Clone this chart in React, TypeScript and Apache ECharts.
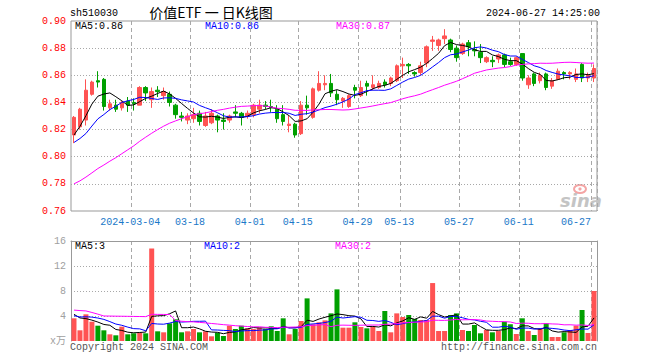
import React, { useEffect, useRef } from "react";
import * as echarts from "echarts";

// ---------- data ----------
const dates = [
  "2024-02-19","2024-02-20","2024-02-21","2024-02-22","2024-02-23","2024-02-26","2024-02-27","2024-02-28","2024-02-29","2024-03-01",
  "2024-03-04","2024-03-05","2024-03-06","2024-03-07","2024-03-08","2024-03-11","2024-03-12","2024-03-13","2024-03-14","2024-03-15",
  "2024-03-18","2024-03-19","2024-03-20","2024-03-21","2024-03-22","2024-03-25","2024-03-26","2024-03-27","2024-03-28","2024-03-29",
  "2024-04-01","2024-04-02","2024-04-03","2024-04-08","2024-04-09","2024-04-10","2024-04-11","2024-04-12",
  "2024-04-15","2024-04-16","2024-04-17","2024-04-18","2024-04-19","2024-04-22","2024-04-23","2024-04-24","2024-04-25","2024-04-26",
  "2024-04-29","2024-04-30","2024-05-06","2024-05-07","2024-05-08","2024-05-09","2024-05-10",
  "2024-05-13","2024-05-14","2024-05-15","2024-05-16","2024-05-17","2024-05-20","2024-05-21","2024-05-22","2024-05-23","2024-05-24",
  "2024-05-27","2024-05-28","2024-05-29","2024-05-30","2024-05-31","2024-06-03","2024-06-04","2024-06-05","2024-06-06","2024-06-07",
  "2024-06-11","2024-06-12","2024-06-13","2024-06-14","2024-06-17","2024-06-18","2024-06-19","2024-06-20","2024-06-21",
  "2024-06-24","2024-06-25","2024-06-26","2024-06-27",
];

const labelDates = [
  "2024-03-04","2024-03-18","2024-04-01","2024-04-15","2024-04-29",
  "2024-05-13","2024-05-27","2024-06-11","2024-06-27",
];

const opens = [
  0.816,0.822,0.827,0.846,0.856,0.857,0.836,0.838,0.836,0.841,
  0.840,0.838,0.851,0.842,0.849,0.845,0.846,0.838,0.830,0.827,
  0.828,0.832,0.823,0.825,0.830,0.827,0.827,0.833,0.832,0.830,
  0.831,0.835,0.838,0.837,0.835,0.831,0.823,0.824,0.817,0.838,
  0.829,0.849,0.853,0.854,0.846,0.841,0.837,0.851,0.845,0.854,
  0.851,0.851,0.855,0.854,0.856,0.867,0.868,0.862,0.862,0.869,
  0.885,0.882,0.887,0.886,0.880,0.876,0.884,0.879,0.877,0.870,
  0.871,0.872,0.875,0.870,0.868,0.876,0.853,0.861,0.856,0.861,
  0.852,0.857,0.862,0.861,0.857,0.868,0.858,0.858,
];
const closes = [
  0.829,0.835,0.849,0.855,0.855,0.837,0.839,0.835,0.840,0.838,
  0.839,0.851,0.847,0.848,0.848,0.848,0.840,0.831,0.829,0.830,
  0.831,0.826,0.830,0.832,0.827,0.826,0.830,0.832,0.829,0.832,
  0.838,0.838,0.837,0.836,0.828,0.826,0.824,0.816,0.838,0.836,
  0.850,0.854,0.854,0.847,0.842,0.843,0.845,0.849,0.851,0.852,
  0.853,0.854,0.853,0.858,0.867,0.868,0.867,0.861,0.867,0.881,
  0.886,0.886,0.889,0.879,0.873,0.883,0.881,0.878,0.873,0.873,
  0.870,0.875,0.868,0.868,0.873,0.858,0.858,0.854,0.860,0.851,
  0.856,0.863,0.861,0.862,0.861,0.858,0.860,0.865,
];
const lows = [
  0.810,0.820,0.823,0.845,0.851,0.834,0.834,0.833,0.834,0.833,
  0.834,0.838,0.841,0.836,0.844,0.842,0.837,0.828,0.826,0.824,
  0.825,0.823,0.822,0.824,0.818,0.820,0.825,0.829,0.823,0.828,
  0.829,0.832,0.835,0.833,0.825,0.823,0.818,0.814,0.816,0.831,
  0.828,0.848,0.849,0.844,0.838,0.836,0.836,0.843,0.844,0.845,
  0.849,0.850,0.851,0.852,0.855,0.858,0.861,0.859,0.860,0.866,
  0.878,0.878,0.883,0.877,0.870,0.875,0.874,0.874,0.869,0.869,
  0.866,0.869,0.866,0.867,0.867,0.856,0.850,0.852,0.854,0.849,
  0.850,0.857,0.857,0.857,0.855,0.855,0.855,0.855,
];
const highs = [
  0.830,0.836,0.857,0.856,0.863,0.858,0.842,0.842,0.841,0.844,
  0.843,0.852,0.852,0.851,0.852,0.851,0.848,0.839,0.833,0.832,
  0.836,0.834,0.833,0.835,0.831,0.832,0.831,0.838,0.833,0.834,
  0.839,0.842,0.841,0.842,0.838,0.838,0.830,0.825,0.841,0.845,
  0.851,0.863,0.860,0.861,0.849,0.844,0.846,0.853,0.856,0.856,
  0.860,0.856,0.857,0.859,0.868,0.873,0.869,0.863,0.870,0.882,
  0.889,0.887,0.894,0.887,0.882,0.884,0.886,0.885,0.883,0.874,
  0.874,0.876,0.876,0.873,0.874,0.876,0.860,0.862,0.862,0.862,
  0.858,0.865,0.863,0.863,0.865,0.869,0.862,0.868,
];
// volumes in 万手
const volumes = [
  3.63,1.71,4.27,3.09,2.45,1.71,1.07,0.91,2.29,1.07,
  1.23,1.33,1.23,14.8,1.55,1.39,2.83,3.47,1.39,1.55,
  1.92,1.39,1.55,0.75,1.33,0.80,2.45,1.92,2.45,2.03,
  1.92,2.13,1.92,2.35,1.60,3.63,1.07,1.92,3.20,6.82,
  2.67,2.99,3.30,4.42,8.26,2.13,2.13,2.99,2.24,2.03,
  2.29,1.60,4.80,1.39,4.42,3.84,4.16,3.52,3.36,3.36,
  9.27,1.60,1.60,4.16,4.42,1.76,1.60,2.56,1.23,1.76,
  1.39,1.60,3.09,2.67,1.12,3.63,1.60,0.96,2.03,2.83,
  0.64,0.64,1.39,1.76,2.45,4.96,1.28,8.00,
];
// sessions before the visible window (estimated, only used for the moving averages)
const prevCloses = [
  0.768,0.765,0.762,0.760,0.758,0.757,0.755,0.753,0.752,0.752,
  0.750,0.755,0.762,0.768,0.772,0.775,0.778,0.782,0.785,0.786,
  0.806,0.812,0.800,0.802,0.805,0.803,0.810,0.812,0.826,
];
const prevVolumes = [
  4.0,6.0,10.5,10.5,10.5,1.5,1.4,2.6,1.5,1.7,
  1.8,1.7,3.5,2.0,1.8,3.3,32.0,5.0,3.5,3.0,
  3.8,4.0,3.6,3.9,3.9,4.6,4.8,4.3,4.0,
];

const yTicksMain = { min: 0.76, max: 0.9, step: 0.02 };
const yTicksVol = { min: 0, max: 16, step: 4 };

// ---------- helpers ----------
function movingAvg(prev: number[], vals: number[], n: number): number[] {
  const all = prev.concat(vals);
  const off = prev.length;
  return vals.map((_, i) => {
    let s = 0;
    for (let k = 0; k < n; k++) s += all[off + i - k];
    return +(s / n).toFixed(4);
  });
}

const RED = "#ff5353";
const GREEN = "#00a000";
const MONO = "'Liberation Mono', 'DejaVu Sans Mono', monospace";
const GRIDC = "#a8a8a8";

export default function App() {
  const ref = useRef<HTMLDivElement>(null);

  useEffect(() => {
    if (!ref.current) return;
    const chart = echarts.init(ref.current, undefined, { renderer: "svg" });

    const ma5 = movingAvg(prevCloses, closes, 5);
    const ma10 = movingAvg(prevCloses, closes, 10);
    const ma30 = movingAvg(prevCloses, closes, 30);
    const vma5 = movingAvg(prevVolumes, volumes, 5);
    const vma10 = movingAvg(prevVolumes, volumes, 10);
    const vma30 = movingAvg(prevVolumes, volumes, 30);
    const last = closes.length - 1;

    const labelIdx = new Set(labelDates.map((d) => dates.indexOf(d)));
    const candleData = dates.map((_, i) => [opens[i], closes[i], lows[i], highs[i]]);
    const volData = volumes.map((v, i) => ({
      value: v,
      itemStyle: { color: closes[i] >= opens[i] ? RED : GREEN },
    }));

    const splitV = {
      show: true,
      interval: (idx: number) => labelIdx.has(idx),
      lineStyle: { color: GRIDC, type: [4, 3], width: 1 },
    };

    const legendText = (x: number, y: number, text: string, color: string) => ({
      type: "text",
      x,
      y,
      silent: true,
      style: {
        text,
        fill: color,
        font: `10px ${MONO}`,
        textAlign: "left",
        textVerticalAlign: "middle",
      },
    });

    chart.setOption({
      animation: false,
      backgroundColor: "#ffffff",
      grid: [
        { left: 71, top: 21, width: 526, height: 190, show: true, borderColor: "#999", borderWidth: 1 },
        { left: 71, top: 241, width: 526, height: 100, show: false },
      ],
      xAxis: [
        {
          type: "category",
          gridIndex: 0,
          data: dates,
          boundaryGap: true,
          axisLine: { show: false, onZero: false },
          axisTick: { show: false },
          splitLine: splitV,
          axisLabel: {
            interval: (idx: number) => labelIdx.has(idx),
            margin: 6,
            color: "#1a78c8",
            fontFamily: MONO,
            fontSize: 10,
            formatter: (val: string, idx: number) => {
              const t = idx === 10 ? val : val.slice(5);
              return idx === dates.length - 1 ? `{t|${t}}{gl| }` : `{t|${t}}{g| }`;
            },
            rich: {
              t: { color: "#1a78c8", fontFamily: MONO, fontSize: 10 },
              g: { width: 7, fontSize: 10 },
              gl: { width: 36, fontSize: 10 },
            },
          },
        },
        {
          type: "category",
          gridIndex: 1,
          data: dates,
          boundaryGap: true,
          position: "top",
          axisLine: { show: true, onZero: false, lineStyle: { color: "#999", width: 1 } },
          axisTick: { show: false },
          axisLabel: { show: false },
          splitLine: splitV,
        },
      ],
      yAxis: [
        {
          type: "value",
          gridIndex: 0,
          min: yTicksMain.min,
          max: yTicksMain.max,
          interval: yTicksMain.step,
          axisLine: { show: false },
          axisTick: { show: false },
          splitLine: {
            show: true,
            showMinLine: false,
            showMaxLine: false,
            lineStyle: { color: GRIDC, type: [1, 2], width: 1 },
          },
          axisLabel: {
            color: "#ff0000",
            fontFamily: MONO,
            fontSize: 10,
            margin: 5,
            formatter: (v: number) => v.toFixed(2),
          },
        },
        {
          type: "value",
          gridIndex: 1,
          min: yTicksVol.min,
          max: yTicksVol.max,
          interval: yTicksVol.step,
          axisLine: { show: true, lineStyle: { color: "#999", width: 1 } },
          axisTick: { show: false },
          splitLine: {
            show: true,
            showMinLine: false,
            showMaxLine: false,
            lineStyle: { color: GRIDC, type: [1, 2], width: 1 },
          },
          axisLabel: {
            color: "#a0a0a0",
            fontFamily: `${MONO}, 'Noto Sans CJK SC'`,
            fontSize: 10,
            margin: 5,
            formatter: (v: number) => (v === 0 ? "x万" : String(v)),
          },
        },
        {
          type: "value",
          gridIndex: 1,
          position: "right",
          min: yTicksVol.min,
          max: yTicksVol.max,
          axisLine: { show: true, lineStyle: { color: "#999", width: 1 } },
          axisTick: { show: false },
          axisLabel: { show: false },
          splitLine: { show: false },
        },
      ],
      series: [
        {
          type: "candlestick",
          xAxisIndex: 0,
          yAxisIndex: 0,
          data: candleData,
          barWidth: 4,
          itemStyle: {
            color: RED,
            color0: GREEN,
            borderColor: RED,
            borderColor0: GREEN,
            borderWidth: 1,
          },
        },
        { type: "line", xAxisIndex: 0, yAxisIndex: 0, data: ma5, symbol: "none", lineStyle: { color: "#000000", width: 1 } },
        { type: "line", xAxisIndex: 0, yAxisIndex: 0, data: ma10, symbol: "none", lineStyle: { color: "#0000ff", width: 1 } },
        { type: "line", xAxisIndex: 0, yAxisIndex: 0, data: ma30, symbol: "none", lineStyle: { color: "#ff00ff", width: 1 } },
        { type: "bar", xAxisIndex: 1, yAxisIndex: 1, data: volData, barWidth: 5 },
        { type: "line", xAxisIndex: 1, yAxisIndex: 1, data: vma5, symbol: "none", lineStyle: { color: "#000000", width: 1 } },
        { type: "line", xAxisIndex: 1, yAxisIndex: 1, data: vma10, symbol: "none", lineStyle: { color: "#0000ff", width: 1 } },
        { type: "line", xAxisIndex: 1, yAxisIndex: 1, data: vma30, symbol: "none", lineStyle: { color: "#ff00ff", width: 1 } },
      ],
      graphic: [
        legendText(70, 13, "sh510030", "#000"),
        {
          type: "text",
          x: 211,
          y: 12,
          silent: true,
          style: {
            text: "价值ETF 一 日K线图",
            fill: "#000",
            font: "14px 'Noto Sans CJK SC'",
            textAlign: "center",
            textVerticalAlign: "middle",
          },
        },
        {
          type: "text",
          x: 600,
          y: 13,
          silent: true,
          style: {
            text: "2024-06-27 14:25:00",
            fill: "#000",
            font: `10px ${MONO}`,
            textAlign: "right",
            textVerticalAlign: "middle",
          },
        },
        legendText(75, 26, `MA5:${ma5[last].toFixed(2)}`, "#000000"),
        legendText(205, 26, `MA10:${ma10[last].toFixed(2)}`, "#0000ff"),
        legendText(336, 26, `MA30:${ma30[last].toFixed(2)}`, "#ff00ff"),
        legendText(75, 246, `MA5:${Math.floor(vma5[last])}`, "#000000"),
        legendText(204, 246, `MA10:${Math.floor(vma10[last])}`, "#0000ff"),
        legendText(335, 246, `MA30:${Math.floor(vma30[last])}`, "#ff00ff"),
        {
          type: "text",
          x: 70,
          y: 347,
          silent: true,
          style: { text: "Copyright 2024 SINA.COM", fill: "#555", font: `10px ${MONO}`, textAlign: "left", textVerticalAlign: "middle" },
        },
        {
          type: "text",
          x: 597,
          y: 347,
          silent: true,
          style: { text: "http://finance.sina.com.cn", fill: "#555", font: `10px ${MONO}`, textAlign: "right", textVerticalAlign: "middle" },
        },
        {
          type: "ellipse",
          silent: true,
          shape: { cx: 580, cy: 189, rx: 6, ry: 4 },
          style: { fill: "none", stroke: "#f4a5a5", lineWidth: 2 },
        },
        {
          type: "circle",
          silent: true,
          shape: { cx: 580, cy: 189, r: 1.6 },
          style: { fill: "#f4a5a5" },
        },
        {
          type: "text",
          x: 581,
          y: 200,
          silent: true,
          style: {
            text: "sina",
            fill: "#c4c4c4",
            font: "italic bold 18px 'DejaVu Sans', sans-serif",
            textAlign: "center",
            textVerticalAlign: "middle",
          },
        },
      ],
    });

    return () => chart.dispose();
  }, []);

  return (
    <div
      ref={ref}
      style={{ position: "absolute", left: 0, top: 0, width: 660, height: 360, background: "#fff" }}
    />
  );
}
